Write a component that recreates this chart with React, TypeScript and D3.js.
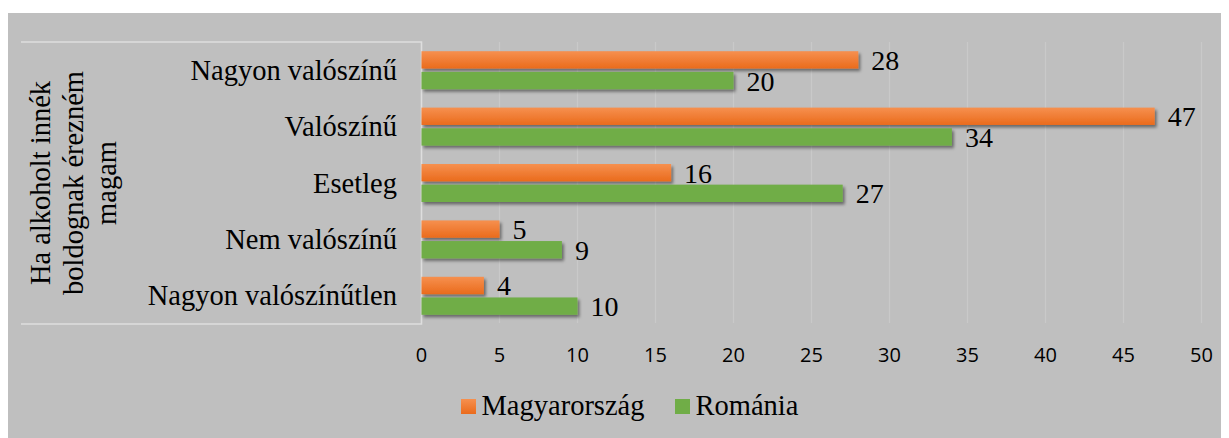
import React from "react";
import * as d3 from "d3";

const categories = ["Nagyon valószínű", "Valószínű", "Esetleg", "Nem valószínű", "Nagyon valószínűtlen"];
const seriesNames = ["Magyarország", "Románia"];
const magyarorszag = [28, 47, 16, 5, 4];
const romania = [20, 34, 27, 9, 10];
const xTicks = [0, 5, 10, 15, 20, 25, 30, 35, 40, 45, 50];
const titleLines = ["Ha alkoholt innék", "boldognak érezném", "magam"];

const W = 1229;
const H = 438;
const plotLeft = 421.5;
const plotRight = 1201.5;
const plotTop = 42;
const plotBottom = 324;
const SERIF = "'Liberation Serif', 'Times New Roman', serif";
const SANS = "'Open Sans', 'Noto Sans', sans-serif";

export default function App() {
  const x = d3.scaleLinear().domain([0, 50]).range([plotLeft, plotRight]);
  const y = d3.scaleBand<string>().domain(categories).range([plotTop, plotBottom]);
  const inner = d3.scaleBand<number>().domain([0, 1]).range([9.2, y.bandwidth() - 9.2]).paddingInner(0.16);
  const series = [magyarorszag, romania];
  const fills = ["url(#orangeGrad)", "#70ad47"];

  return (
    <svg width={W - 8} height={H - 8} style={{ display: "block", overflow: "visible" }}>
      <defs>
        <linearGradient id="orangeGrad" x1="0" y1="0" x2="0" y2="1">
          <stop offset="0" stopColor="#f6904f" />
          <stop offset="1" stopColor="#ea6b1c" />
        </linearGradient>
        <filter id="shadow" x="-5%" y="-50%" width="115%" height="250%">
          <feDropShadow dx="2" dy="2.5" stdDeviation="1.6" floodColor="#000" floodOpacity="0.45" />
        </filter>
      </defs>
      <g transform="translate(-8,-8)">
        <rect x={8} y={13} width={W - 8} height={H - 13} fill="#bfbfbf" />
        {/* gridlines */}
        {xTicks.map((t) => (
          <line key={t} x1={x(t)} x2={x(t)} y1={plotTop} y2={plotBottom - 1} stroke="#c9c9c9" strokeWidth={1.3} />
        ))}
        {/* label box */}
        <path
          d={`M21,${plotTop} H${plotLeft} V${plotBottom} H21`}
          fill="none"
          stroke="#dedede"
          strokeWidth={1.5}
        />
        {/* title */}
        <text
          transform={`translate(74,183) rotate(-90)`}
          fontFamily={SERIF}
          fontSize={28.5}
          fill="#000"
          textAnchor="middle"
        >
          {titleLines.map((l, i) => (
            <tspan key={i} x={0} y={(i - 1) * 33 + 9}>
              {l}
            </tspan>
          ))}
        </text>
        {/* category labels */}
        {categories.map((c) => (
          <text
            key={c}
            x={397}
            y={(y(c) as number) + y.bandwidth() / 2 + 9.5}
            fontFamily={SERIF}
            fontSize={28.5}
            textAnchor="end"
            fill="#000"
          >
            {c}
          </text>
        ))}
        {/* bars */}
        {categories.map((c, ci) => (
          <g key={c}>
            {series.map((s, si) => {
              const by = (y(c) as number) + (inner(si) as number);
              const bh = inner.bandwidth();
              return (
                <g key={si}>
                  <rect
                    x={x(0)}
                    y={by}
                    width={x(s[ci]) - x(0)}
                    height={bh}
                    fill={fills[si]}
                    filter="url(#shadow)"
                  />
                  <text
                    x={x(s[ci]) + 13}
                    y={by + bh / 2 + 10}
                    fontFamily={SERIF}
                    fontSize={28}
                    fill="#000"
                  >
                    {s[ci]}
                  </text>
                </g>
              );
            })}
          </g>
        ))}
        {/* x tick labels */}
        {xTicks.map((t) => (
          <text key={t} x={x(t)} y={361.5} fontFamily={SANS} fontSize={20} textAnchor="middle" fill="#000">
            {t}
          </text>
        ))}
        {/* legend */}
        {seriesNames.map((n, i) => {
          const lx = [461, 675][i];
          return (
            <g key={n}>
              <rect x={lx} y={399} width={15} height={15} fill={fills[i]} />
              <text x={lx + 20.5} y={415} fontFamily={SERIF} fontSize={28.5} fill="#000">
                {n}
              </text>
            </g>
          );
        })}
      </g>
    </svg>
  );
}
